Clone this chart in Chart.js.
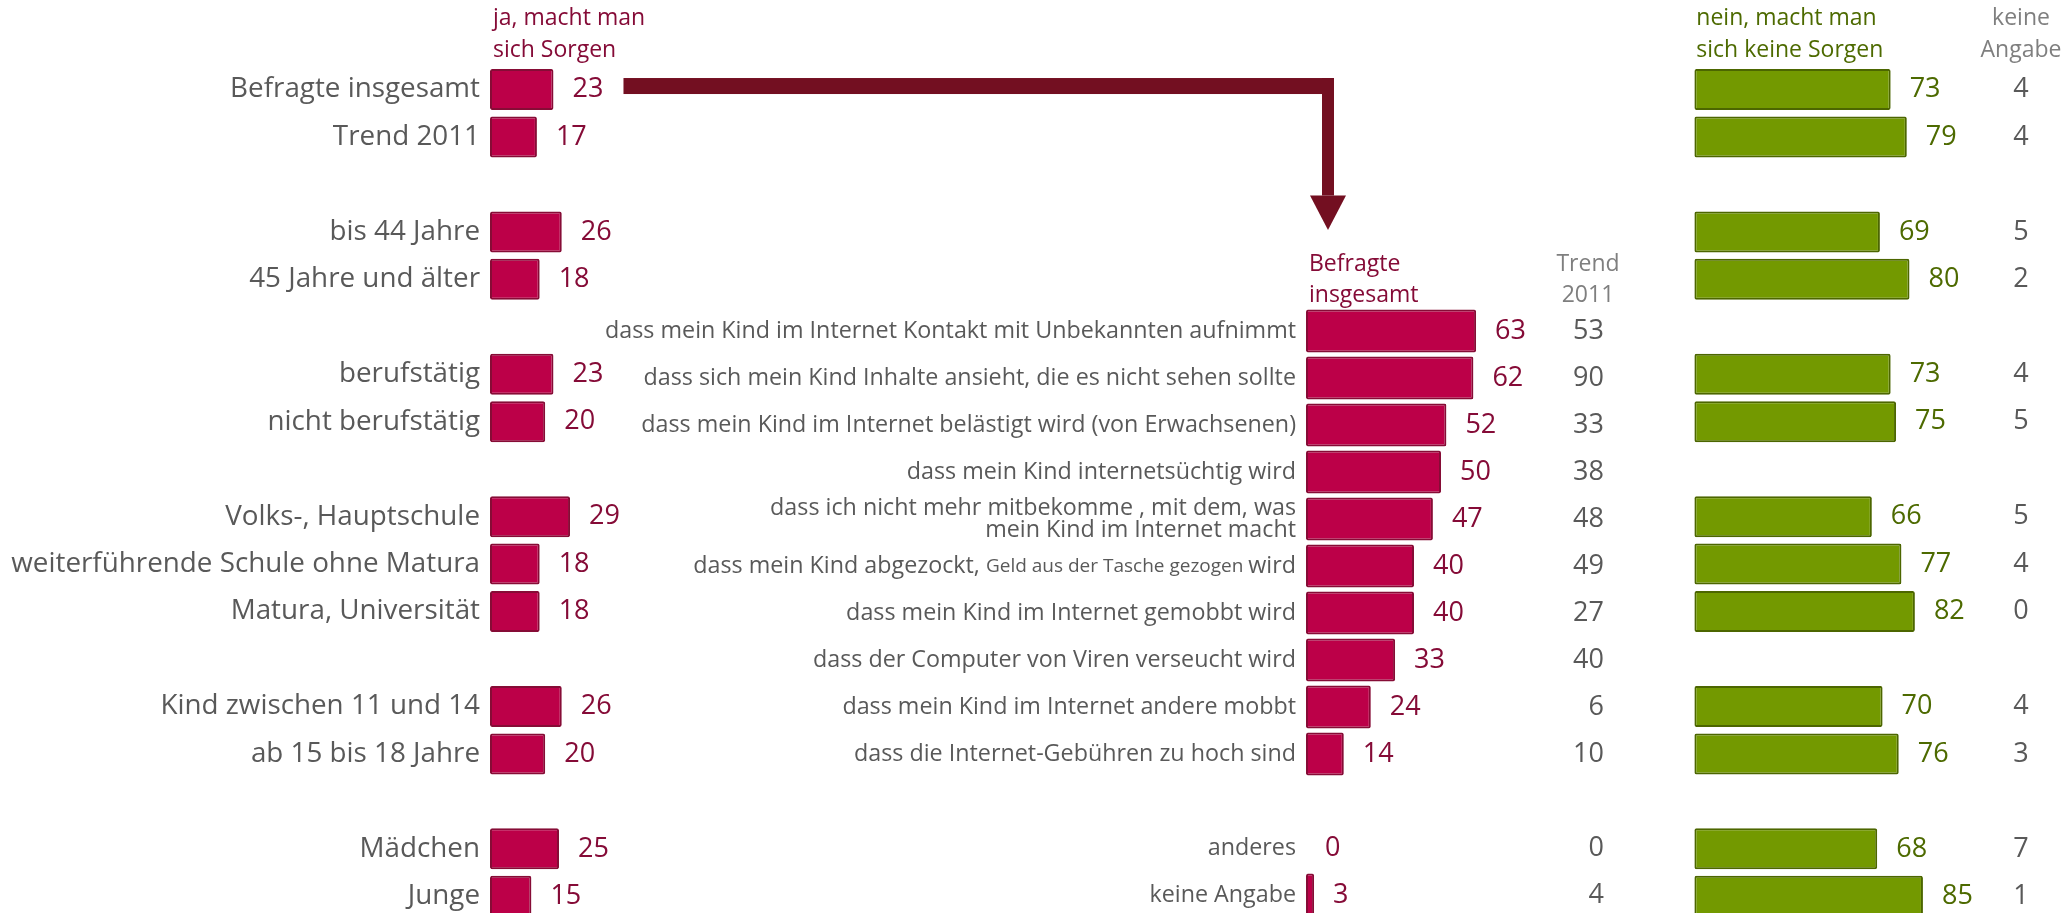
<!DOCTYPE html>
<html>
<head>
<meta charset="utf-8">
<script src="https://cdn.jsdelivr.net/npm/chart.js@4.4.1/dist/chart.umd.min.js"></script>
<style>
    html, body { margin: 0; padding: 0; background: #fff; overflow: hidden; }
    #wrap { position: relative; width: 2065px; height: 930px; }
    canvas { position: absolute; left: 0; top: 0; }
</style>
</head>
<body>
<div id="wrap">
    <canvas id="leftChart" width="2065" height="930"></canvas>
    <canvas id="middleChart" width="2065" height="930"></canvas>
    <canvas id="rightChart" width="2065" height="930"></canvas>
</div>
<script>
// groups of respondents ('' = spacer row)
const groups = ['Befragte insgesamt', 'Trend 2011', '',
    'bis 44 Jahre', '45 Jahre und älter', '',
    'berufstätig', 'nicht berufstätig', '',
    'Volks-, Hauptschule', 'weiterführende Schule ohne Matura', 'Matura, Universität', '',
    'Kind zwischen 11 und 14', 'ab 15 bis 18 Jahre', '',
    'Mädchen', 'Junge']
const jaSorgen   = [23, 17, null, 26, 18, null, 23, 20, null, 29, 18, 18, null, 26, 20, null, 25, 15]
const neinSorgen = [73, 79, null, 69, 80, null, 73, 75, null, 66, 77, 82, null, 70, 76, null, 68, 85]
const keineAngabe = [4, 4, null, 5, 2, null, 4, 5, null, 5, 4, 0, null, 4, 3, null, 7, 1]

// worries of all parents who worry
const reasons = ['dass mein Kind im Internet Kontakt mit Unbekannten aufnimmt',
    'dass sich mein Kind Inhalte ansieht, die es nicht sehen sollte',
    'dass mein Kind im Internet belästigt wird (von Erwachsenen)',
    'dass mein Kind internetsüchtig wird',
    ['dass ich nicht mehr mitbekomme , mit dem, was', 'mein Kind im Internet macht'],
    'dass mein Kind abgezockt, Geld aus der Tasche gezogen wird',
    'dass mein Kind im Internet gemobbt wird',
    'dass der Computer von Viren verseucht wird',
    'dass mein Kind im Internet andere mobbt',
    'dass die Internet-Gebühren zu hoch sind',
    '',
    'anderes',
    'keine Angabe']
const smallPrint = 'Geld aus der Tasche gezogen'
const insgesamt = [63, 62, 52, 50, 47, 40, 40, 33, 24, 14, null, 0, 3]
const trend2011 = [53, 90, 33, 38, 48, 49, 27, 40, 6, 10, null, 0, 4]

const FONT = '"Open Sans", "DejaVu Sans", sans-serif'
const GREY = '#595959'
const RED = '#bc0048'
const RED_EDGE = '#860c36'
const RED_TEXT = '#850b37'
const GREEN = '#739900'
const GREEN_EDGE = '#4c6600'
const GREEN_TEXT = '#4d6a00'
const ARROW = '#730f21'
const LABEL_SIZE = 23.3

function font(size) {
    return size + 'px ' + FONT
}

function barChart(id, labels, values, fill, edge, padding, barPct, plugin) {
    return new Chart(document.getElementById(id), {
        type: 'bar',
        data: {
            labels: labels,
            datasets: [{
                data: values,
                backgroundColor: fill,
                borderColor: edge,
                borderWidth: 2,
                borderSkipped: false,
                borderRadius: 2,
                barPercentage: barPct,
                categoryPercentage: 1,
            }],
        },
        options: {
            indexAxis: 'y',
            responsive: false,
            animation: false,
            events: [],
            layout: { padding: padding },
            scales: {
                x: { display: false, min: 0, max: 100 },
                y: { display: false },
            },
            plugins: {
                legend: { display: false },
                tooltip: { enabled: false },
            },
        },
        plugins: [plugin],
    })
}

function text(ctx, str, x, y, size, color, align) {
    ctx.font = font(size)
    ctx.fillStyle = color
    ctx.textAlign = align || 'left'
    ctx.textBaseline = 'middle'
    ctx.fillText(str, x, y)
}

// value labels just behind the bar end
function valueLabels(chart, color, size) {
    var ctx = chart.ctx
    var x = chart.scales.x
    var y = chart.scales.y
    chart.data.datasets[0].data.forEach(function(v, i) {
        if (v === null) return
        text(ctx, String(v), x.getPixelForValue(v) + 19, y.getPixelForValue(i), size, color)
    })
}

const leftText = {
    id: 'leftText',
    afterDatasetsDraw(chart) {
        var ctx = chart.ctx
        var area = chart.chartArea
        var y = chart.scales.y
        ctx.save()
        groups.forEach(function(g, i) {
            if (g) text(ctx, g, area.left - 10, y.getPixelForValue(i), 27.8, GREY, 'right')
        })
        valueLabels(chart, RED_TEXT, 27)
        text(ctx, 'ja, macht man', area.left + 3, 18, 23, RED_TEXT)
        text(ctx, 'sich Sorgen', area.left + 3, 50, 23, RED_TEXT)
        ctx.restore()
    }
}

var leftChart = barChart('leftChart', groups, jaSorgen, RED, RED_EDGE,
    { left: 490, right: 1299, top: 65.8, bottom: 10 }, 0.864, leftText)

const middleText = {
    id: 'middleText',
    afterDatasetsDraw(chart) {
        var ctx = chart.ctx
        var area = chart.chartArea
        var y = chart.scales.y
        var right = area.left - 10
        ctx.save()
        reasons.forEach(function(r, i) {
            var cy = y.getPixelForValue(i)
            if (Array.isArray(r)) {
                text(ctx, r[0], right, cy - 11, LABEL_SIZE, GREY, 'right')
                text(ctx, r[1], right, cy + 11, LABEL_SIZE, GREY, 'right')
            } else if (r.indexOf(smallPrint) >= 0) {
                // part of this label is set in a smaller size
                var parts = r.split(smallPrint)
                var runs = [[parts[0], LABEL_SIZE], [smallPrint + ' ', 19], [parts[1].trim(), LABEL_SIZE]]
                var total = 0
                runs.forEach(function(run) {
                    ctx.font = font(run[1])
                    total += ctx.measureText(run[0]).width
                })
                var x = right - total
                runs.forEach(function(run) {
                    text(ctx, run[0], x, cy + (run[1] < LABEL_SIZE ? 1 : 0), run[1], GREY)
                    x += ctx.measureText(run[0]).width
                })
            } else if (r) {
                text(ctx, r, right, cy, LABEL_SIZE, GREY, 'right')
            }
        })
        valueLabels(chart, RED_TEXT, 27)
        trend2011.forEach(function(v, i) {
            if (v !== null) text(ctx, String(v), area.right + 28, y.getPixelForValue(i), 27, GREY, 'right')
        })
        text(ctx, 'Befragte', area.left + 3, 264, 23, RED_TEXT)
        text(ctx, 'insgesamt', area.left + 3, 295, 23, RED_TEXT)
        text(ctx, 'Trend', area.right + 12, 264, 23, '#7f7f7f', 'center')
        text(ctx, '2011', area.right + 12, 295, 23, '#7f7f7f', 'center')

        // elbow arrow from the overall "yes" value down to the breakdown
        var lx = leftChart.scales.x
        var ly = leftChart.scales.y
        var x0 = lx.getPixelForValue(jaSorgen[0]) + 70
        var top = ly.getPixelForValue(0) - 11.5
        var shaftR = area.left + 28
        var headY = area.top - 112
        var tipY = area.top - 77.5
        ctx.fillStyle = ARROW
        ctx.fillRect(x0, top, shaftR - x0, 16)
        ctx.fillRect(shaftR - 12, top, 12, headY - top)
        ctx.beginPath()
        ctx.moveTo(shaftR - 24, headY)
        ctx.lineTo(shaftR + 12, headY)
        ctx.lineTo(shaftR - 6, tipY)
        ctx.closePath()
        ctx.fill()
        ctx.restore()
    }
}

barChart('middleChart', reasons, insgesamt, RED, RED_EDGE,
    { left: 1306, right: 489, top: 307.5, bottom: 11.5 }, 0.915, middleText)

const rightText = {
    id: 'rightText',
    afterDatasetsDraw(chart) {
        var ctx = chart.ctx
        var area = chart.chartArea
        var y = chart.scales.y
        ctx.save()
        valueLabels(chart, GREEN_TEXT, 27)
        keineAngabe.forEach(function(v, i) {
            if (v !== null) text(ctx, String(v), area.right + 57.7, y.getPixelForValue(i), 27, GREY, 'center')
        })
        text(ctx, 'nein, macht man', area.left + 2, 18, 23, GREEN_TEXT)
        text(ctx, 'sich keine Sorgen', area.left + 2, 50, 23, GREEN_TEXT)
        text(ctx, 'keine', area.right + 57.7, 18, 23, '#7f7f7f', 'center')
        text(ctx, 'Angabe', area.right + 57.7, 50, 23, '#7f7f7f', 'center')
        ctx.restore()
    }
}

barChart('rightChart', groups, neinSorgen, GREEN, GREEN_EDGE,
    { left: 1694.3, right: 101.7, top: 65.8, bottom: 10 }, 0.864, rightText)
</script>
</body>
</html>
